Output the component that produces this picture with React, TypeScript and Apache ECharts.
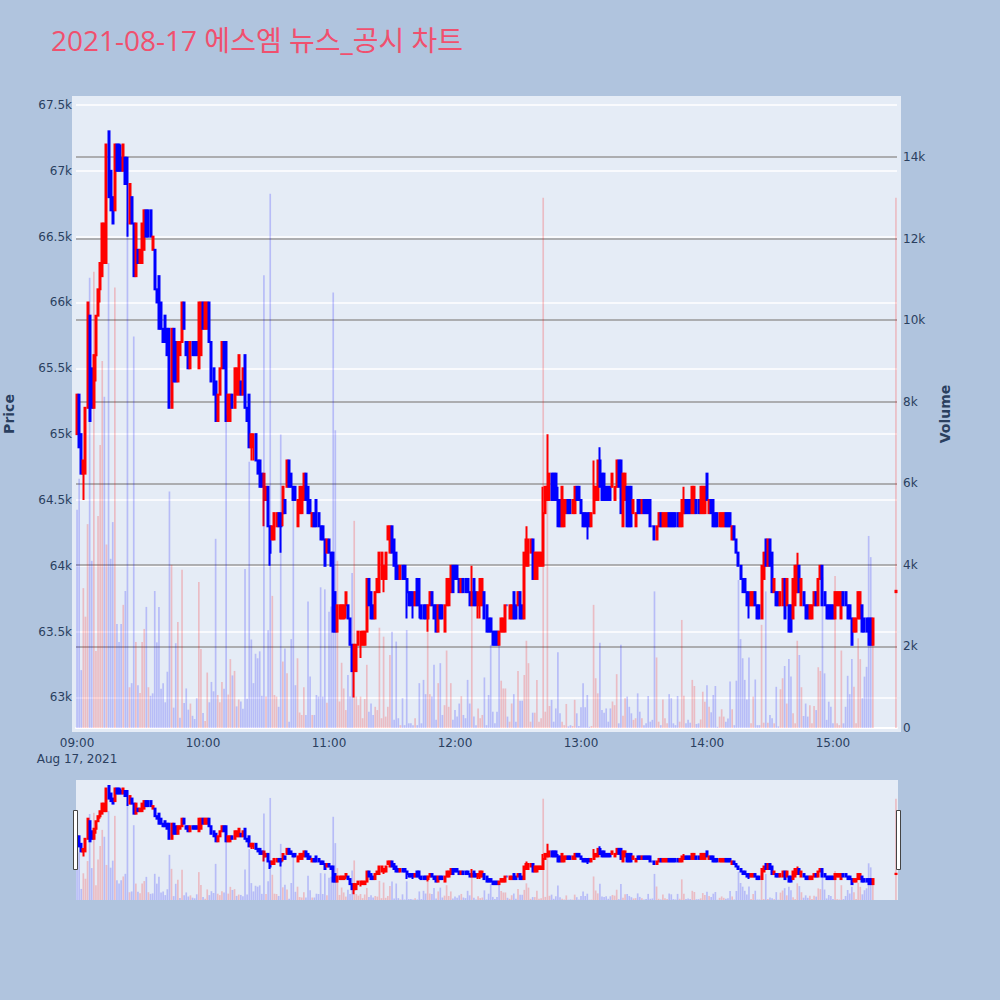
import React, { useEffect, useRef } from "react";
import * as echarts from "echarts";

// [open, close, low, high, volume] per minute
const hour09 = [
  [65000,65300,65000,65300,5350],[65300,64900,64900,65300,6110],[65000,64700,64700,65000,1420],[64700,64800,64500,64800,3430],[64700,65200,64700,65200,2730],
  [65200,66000,65200,66000,5000],[65900,65100,65100,65900,11040],[65500,65200,65200,65500,4100],[65200,65600,65200,65600,11190],[65600,65900,65400,65900,1890],
  [65900,66100,65900,66100,5200],[66100,66300,66000,66300,6940],[66200,66600,66200,66600,9000],[66300,66600,66300,66600,8120],[66300,67200,66300,67200,4500],
  [67300,66800,66800,67300,11400],[67000,66700,66700,67000,4150],[66800,66600,66600,66800,5050],[66700,67200,66700,67200,10800],[67200,67000,67000,67200,2550],
  [67200,67000,67000,67200,2110],[67100,67000,67000,67200,2550],[67000,67200,67000,67200,3020],[67100,66900,66900,67100,3360],[67100,66900,66500,67100,12390],
  [66600,66900,66600,66900,1000],[66800,66600,66600,66800,1100],[66600,66200,66200,66600,9600],[66200,66600,66200,66600,2110],[66400,66300,66300,66400,1050],
  [66300,66400,66300,66400,860],[66300,66600,66300,66600,2110],[66400,66700,66400,66700,2430],[66700,66500,66500,66700,2970],[66700,66500,66500,66700,1000],
  [66700,66500,66500,66700,790],[66400,66500,66400,66500,850],[66400,66100,66100,66400,3360],[66100,66000,66000,66100,2100],[66200,65800,65800,66200,2970],
  [66000,65800,65800,66000,960],[65800,65700,65700,65800,1100],[65900,65700,65700,65900,630],[65800,65600,65600,65800,1380],[65800,65200,65200,65800,5800],
  [65200,65800,65200,65800,4000],[65800,65400,65400,65800,500],[65700,65400,65400,65700,2080],[65400,65700,65400,65700,2600],[65600,65700,65600,65700,250],
  [65700,66000,65700,66000,3880],[66000,65800,65800,66000,610],[65700,65600,65600,65700,970],[65700,65500,65500,65700,450],[65500,65700,65500,65700,600],
  [65700,65600,65600,65700,300],[65700,65600,65600,65700,220],[65700,65600,65600,65700,730],[65500,66000,65500,66000,3580],[65600,66000,65600,66000,1940],
];
const hour10 = [
  [66000,65800,65800,66000,370],[65800,66000,65800,66000,170],[65800,66000,65800,66000,1360],[66000,65700,65700,66000,630],[65700,65400,65400,65700,1130],
  [65500,65300,65300,65500,900],[65400,65100,65100,65400,4640],[65100,65300,65100,65300,810],[65300,65500,65300,65500,630],[65500,65700,65500,65700,1130],
  [65700,65500,65500,65700,960],[65700,65100,65100,65700,7680],[65100,65300,65100,65300,820],[65100,65300,65100,65300,1690],[65300,65200,65200,65300,1290],
  [65200,65500,65200,65500,1400],[65300,65500,65300,65500,530],[65300,65600,65300,65600,700],[65400,65300,65300,65400,650],[65300,65500,65300,65500,470],
  [65600,65200,65200,65600,3900],[65200,65100,65100,65200,720],[65300,64900,64900,65300,6530],[64900,65000,64800,65000,2170],[64900,65000,64800,65000,1100],
  [65000,64800,64800,65000,1820],[64800,64700,64700,64800,1710],[64800,64600,64600,64800,1880],[64700,64600,64600,64700,790],[64500,64700,64300,64700,11100],
  [64500,64600,64500,64600,770],[64600,64300,64300,64600,2400],[64300,64100,64000,64300,13100],[64200,64300,64200,64300,3240],[64200,64400,64200,64400,810],
  [64300,64400,64300,64400,770],[64400,64300,64300,64400,520],[64400,64300,64100,64400,7200],[64400,64600,64300,64600,1630],[64500,64400,64400,64500,1950],
  [64600,64800,64600,64800,1340],[64800,64600,64600,64800,155],[64700,64600,64600,64700,2180],[64600,64500,64500,64600,5620],[64600,64500,64500,64600,1050],
  [64300,64500,64300,64500,1710],[64400,64600,64400,64600,380],[64400,64600,64400,64600,320],[64500,64700,64500,64700,1000],[64700,64500,64500,64700,320],
  [64600,64400,64400,64600,3100],[64500,64400,64400,64500,1260],[64300,64400,64300,64400,320],[64400,64300,64300,64400,320],[64500,64300,64300,64500,810],
  [64400,64300,64300,64400,770],[64300,64200,64200,64300,3450],[64300,64200,64200,64300,770],[64200,64000,64000,64200,3400],[64100,64200,64100,64200,620],
];
const hour11 = [
  [64200,64100,64100,64200,2850],[64100,64000,64000,64100,2980],[64100,63500,63500,64100,10680],[63800,63500,63500,63800,7300],[63500,63700,63500,63700,4100],
  [63600,63700,63600,63700,650],[63600,63700,63600,63700,1600],[63600,63700,63600,63700,970],[63700,63800,63600,63800,440],[63700,63600,63600,63700,1300],
  [63600,63400,63400,63600,770],[63400,63200,63200,63400,3800],[63200,63400,63000,63400,5080],[63200,63400,63200,63400,770],[63400,63500,63400,63500,560],
  [63400,63500,63300,63500,770],[63400,63500,63400,63500,240],[63400,63500,63400,63500,710],[63500,63900,63500,63900,1550],[63900,63700,63700,63900,400],
  [63800,63600,63600,63800,600],[63700,63600,63600,63700,320],[63600,63800,63600,63800,520],[63800,63900,63800,63900,440],[63800,64100,63800,64100,2460],
  [63900,64100,63900,64100,240],[63900,64000,63800,64000,2240],[63900,64100,63900,64100,280],[64200,64300,64200,64300,520],[64100,64300,64100,64300,1790],
  [64300,64100,64100,64300,2360],[64200,64000,64000,64200,200],[64100,63900,63900,64100,2120],[64000,63900,63900,64000,240],[63900,64000,63900,64000,70],
  [64000,63900,63900,64000,730],[64000,63900,63900,64000,70],[63900,63800,63600,63900,2400],[63800,63700,63700,63800,115],[63800,63700,63700,63800,115],
  [63800,63700,63600,63800,70],[63700,63800,63700,63800,240],[63900,63700,63700,63900,70],[63900,63700,63600,63900,1100],[63700,63600,63600,63700,115],
  [63700,63600,63600,63700,1180],[63700,63600,63600,63700,830],[63600,63700,63500,63700,2360],[63700,63800,63700,63800,830],[63800,63700,63700,63800,770],
  [63700,63600,63600,63700,1550],[63700,63500,63500,63700,200],[63500,63700,63500,63700,1100],[63700,63600,63600,63700,1590],[63700,63600,63600,63700,320],
  [63500,63700,63500,63700,560],[63700,63900,63700,63900,1900],[63700,63900,63700,63900,520],[63800,64000,63800,64000,1100],[64000,63800,63800,64000,200],
];
const hour12 = [
  [64000,63900,63900,64000,440],[64000,63900,63900,64000,280],[63900,63800,63800,63900,600],[63800,63900,63800,63900,780],[63900,63800,63800,63900,320],
  [63900,63800,63800,63900,240],[63900,63800,63800,63900,1180],[63800,63700,63700,63800,600],[63700,63800,63700,64000,3300],[63900,63700,63700,63900,280],
  [63800,63700,63700,63800,70],[63700,63800,63600,63800,480],[63700,63900,63600,63900,240],[63700,63900,63700,63900,320],[63800,63600,63600,63800,1240],
  [63700,63500,63500,63700,70],[63600,63500,63500,63600,810],[63600,63500,63500,63600,2040],[63500,63400,63400,63500,400],[63500,63400,63400,63500,115],
  [63500,63400,63400,63500,400],[63400,63500,63400,63500,2040],[63500,63600,63500,63600,1160],[63500,63600,63500,63600,970],[63500,63700,63500,63700,970],
  [63700,63700,63700,63700,280],[63600,63700,63600,63700,155],[63600,63700,63600,63700,600],[63800,63600,63600,63800,830],[63700,63600,63600,63700,155],
  [63700,63800,63700,63800,1400],[63800,63600,63600,63800,670],[63700,63600,63600,63700,670],[63600,64100,63600,64100,1300],[64000,64200,64000,64300,2140],
  [64000,64200,64000,64200,1590],[64100,64200,64100,64200,155],[64200,63900,63900,64200,376],[63900,64100,63900,64100,376],[63900,64100,63900,64100,1180],
  [64000,64100,64000,64100,155],[64000,64100,64000,64100,240],[64000,64400,64000,64600,13000],[64400,64600,64400,64600,400],[64500,64600,64500,65000,5600],
  [64500,64700,64500,64700,540],[64700,64500,64500,64700,690],[64700,64500,64500,64700,155],[64700,64500,64500,64700,480],[64500,64300,64300,64600,1860],
  [64500,64300,64300,64500,360],[64300,64600,64300,64600,155],[64300,64500,64300,64500,70],[64400,64500,64400,64500,590],[64500,64400,64400,64500,40],
  [64500,64400,64400,64500,70],[64400,64500,64400,64500,50],[64400,64600,64400,64600,690],[64600,64500,64500,64600,360],[64600,64500,64500,64600,50],
];
const hour13 = [
  [64500,64400,64400,64500,510],[64400,64300,64300,64400,1100],[64400,64300,64300,64400,510],[64400,64300,64200,64400,810],[64400,64300,64300,64400,30],
  [64300,64400,64300,64400,50],[64400,64600,64400,64800,3020],[64500,64600,64500,64600,1220],[64500,64800,64500,64800,850],[64800,64600,64600,64900,2090],
  [64700,64500,64500,64700,440],[64700,64500,64500,64700,376],[64600,64500,64500,64600,480],[64600,64500,64500,64600,155],[64600,64500,64500,64600,480],
  [64600,64700,64600,64700,650],[64500,64600,64500,64600,560],[64600,64800,64600,64800,1320],[64800,64600,64600,64800,115],[64800,64400,64400,64800,2040],
  [64300,64700,64300,64700,300],[64500,64700,64500,64700,730],[64600,64300,64300,64600,770],[64600,64300,64300,64600,520],[64600,64300,64300,64600,360],
  [64400,64500,64400,64500,200],[64300,64400,64300,64400,240],[64500,64400,64400,64500,850],[64500,64400,64400,64500,400],[64400,64500,64400,64500,240],
  [64500,64400,64400,64500,70],[64500,64400,64400,64500,115],[64500,64400,64400,64500,785],[64500,64300,64300,64500,155],[64300,64300,64300,64300,200],
  [64300,64200,64200,64300,3350],[64200,64300,64200,64300,1730],[64300,64400,64300,64400,155],[64400,64300,64300,64400,70],[64300,64400,64300,64400,700],
  [64300,64400,64300,64400,240],[64300,64400,64300,64400,115],[64400,64300,64300,64400,830],[64400,64300,64300,64400,730],[64400,64300,64300,64400,115],
  [64400,64300,64300,64400,70],[64400,64300,64300,64400,785],[64300,64400,64300,64400,155],[64300,64500,64300,64500,2650],[64400,64500,64400,64600,790],
  [64500,64400,64400,64500,115],[64500,64400,64400,64500,200],[64500,64400,64400,64500,130],[64400,64600,64400,64600,1180],[64400,64600,64400,64600,1030],
  [64500,64400,64400,64500,100],[64500,64400,64400,64500,115],[64400,64600,64400,64600,210],[64400,64600,64400,64600,890],[64400,64600,64400,64600,645],
];
const hour14 = [
  [64700,64500,64500,64700,1050],[64400,64500,64400,64500,520],[64500,64400,64400,64500,385],[64500,64300,64300,64500,810],[64400,64300,64300,64400,1030],
  [64400,64300,64300,64400,30],[64300,64400,64300,64400,280],[64300,64400,64300,64400,460],[64300,64400,64300,64400,280],[64400,64300,64300,64400,155],
  [64400,64300,64300,64400,230],[64400,64300,64300,64400,1140],[64200,64300,64200,64300,460],[64300,64200,64200,64300,70],[64200,64100,64100,64200,1160],
  [64100,64000,64000,64100,3630],[64000,63900,63900,64000,2180],[63900,63800,63800,63900,1710],[63900,63800,63800,63900,1180],[63800,63700,63700,63800,700],
  [63800,63700,63600,63800,1730],[63700,63800,63700,63800,115],[63700,63800,63700,63800,770],[63800,63700,63700,63800,1190],[63700,63600,63600,63700,70],
  [63700,63600,63600,63700,70],[63600,64000,63600,64000,2530],[63900,64100,63900,64100,130],[64200,64000,64000,64200,3350],[64000,64200,64000,64200,130],
  [64200,64000,64000,64200,320],[64100,63800,63800,64100,240],[63800,63900,63800,63900,115],[63800,63700,63700,63800,1010],[63800,63700,63700,63800,40],
  [63700,63800,63700,63800,950],[63700,63900,63700,63900,1220],[63900,63600,63600,63900,1520],[63700,63900,63700,63900,600],[63700,63500,63500,63700,1690],
  [63700,63500,63500,63700,1260],[63600,63900,63600,63900,360],[63700,64000,63700,64000,115],[63800,64000,63800,64100,2140],[64000,63800,63800,64000,1790],
  [63700,63900,63700,63900,1000],[63800,63700,63700,63800,295],[63700,63600,63600,63700,600],[63700,63600,63600,63700,280],[63600,63700,63600,63700,560],
  [63600,63700,63600,63700,115],[63700,63800,63700,63800,540],[63800,63700,63700,63800,440],[63700,63900,63700,63900,1490],[63900,64000,63900,64000,1400],
  [64000,63700,63700,64000,3700],[63800,63700,63700,63800,1340],[63700,63600,63600,63700,200],[63700,63600,63600,63700,645],[63700,63600,63600,63700,520],
];
const hour15 = [
  [63700,63600,63600,63700,115],[63600,63800,63600,63800,3730],[63700,63800,63700,63800,115],[63700,63800,63700,63800,70],[63600,63800,63600,63800,1900],
  [63800,63700,63700,63800,115],[63800,63700,63700,63800,520],[63700,63600,63600,63700,1280],[63700,63600,63600,63700,830],[63600,63400,63400,63600,1690],
  [63500,63600,63500,63600,1010],[63500,63600,63500,63600,115],[63600,63800,63600,63800,2200],[63600,63800,63600,63800,1690],[63700,63500,63500,63700,730],
  [63600,63500,63500,63600,1260],[63600,63500,63500,63600,1500],[63600,63400,63400,63600,4710],[63600,63400,63400,63600,4190],[63400,63600,63400,63600,2040],
];
const closingMinute = 390;
const closingCandle = [63800, 63810, 63800, 63810, 13000];

// Volume bars whose colour differs from the candle of the same minute
const blueVolumeMinutes = [0, 7, 13, 36, 49, 76, 79, 83, 84, 89, 201];
const redVolumeMinutes = [34];

const priceTicks = [63000, 63500, 64000, 64500, 65000, 65500, 66000, 66500, 67000, 67500];
const volumeTicks = [0, 2000, 4000, 6000, 8000, 10000, 12000, 14000];

const MINUTES = 391;
const RED = "#FF0000";
const BLUE = "#0000FF";
const INK = "#2a3f5f";
const FONT = "'DejaVu Sans', 'Noto Sans CJK KR', sans-serif";
const TITLE_FONT = "'Open Sans', 'Noto Sans CJK KR', sans-serif";

function label(min: number) {
  const h = 9 + Math.floor(min / 60);
  return `${String(h).padStart(2, "0")}:${String(min % 60).padStart(2, "0")}`;
}
const kFormat = (v: number) => (v === 0 ? "0" : `${v / 1000}k`);

export default function App() {
  const ref = useRef<HTMLDivElement>(null);
  useEffect(() => {
    const chart = echarts.init(ref.current!, undefined, { renderer: "svg" });
    const rows = [...hour09, ...hour10, ...hour11, ...hour12, ...hour13, ...hour14, ...hour15];
    const entries: [number, number[]][] = rows.map((r, i) => [i, r] as [number, number[]]);
    entries.push([closingMinute, closingCandle]);
    const categories = Array.from({ length: MINUTES }, (_, i) => label(i));

    const candleData = entries.map(([m, r]) => {
      const c = r[1] > r[0] ? RED : BLUE;
      return {
        value: [m, r[0], r[1], r[2], r[3]],
        itemStyle: { color: c, color0: c, borderColor: c, borderColor0: c, borderWidth: 2 },
      };
    });
    const volumeData = entries.map(([m, r]) => {
      let c = r[1] > r[0] ? RED : BLUE;
      if (blueVolumeMinutes.includes(m)) c = BLUE;
      if (redVolumeMinutes.includes(m)) c = RED;
      return { value: [m, r[4]], itemStyle: { color: c, opacity: 0.2 } };
    });

    const xBase = {
      type: "category",
      data: categories,
      boundaryGap: true,
      axisTick: { show: false },
      splitLine: { show: false },
    };
    const candleSeries = (x: number, y: number) => ({
      type: "candlestick",
      xAxisIndex: x,
      yAxisIndex: y,
      data: candleData,
      encode: { x: 0, y: [1, 2, 3, 4] },
      barWidth: 1.5,
      clip: false,
      z: 4,
    });
    const barSeries = (x: number, y: number) => ({
      type: "bar",
      xAxisIndex: x,
      yAxisIndex: y,
      data: volumeData,
      encode: { x: 0, y: 1 },
      barWidth: 1.7,
      z: 5,
    });

    chart.setOption({
      animation: false,
      backgroundColor: "#B0C4DE",
      textStyle: { fontFamily: FONT },
      title: {
        text: "2021-08-17 에스엠 뉴스_공시 차트",
        left: 46,
        top: 21,
        textStyle: { color: "#F0506E", fontSize: 28, fontWeight: "normal", fontFamily: TITLE_FONT },
      },
      graphic: [
        { type: "rect", z: -10, shape: { x: 72, y: 96, width: 829, height: 636 }, style: { fill: "#E5ECF6" } },
        { type: "rect", z: -10, shape: { x: 76, y: 780, width: 822, height: 120 }, style: { fill: "#E5ECF6" } },
        { type: "rect", z: 20, shape: { x: 73.5, y: 810.5, width: 4, height: 59 }, style: { fill: "#FFFFFF", stroke: "#444444", lineWidth: 1 } },
        { type: "rect", z: 20, shape: { x: 896.5, y: 810.5, width: 4, height: 59 }, style: { fill: "#FFFFFF", stroke: "#444444", lineWidth: 1 } },
      ],
      grid: [
        { left: 76, width: 821, top: 100, height: 628, outerBoundsMode: "none" },
        { left: 76, width: 821, top: 780, height: 120, outerBoundsMode: "none" },
      ],
      xAxis: [
        {
          ...xBase,
          gridIndex: 0,
          z: 3,
          axisLine: { show: true, lineStyle: { color: "#FFFFFF", width: 2 } },
          axisLabel: {
            color: INK,
            fontSize: 12,
            margin: 7,
            lineHeight: 16,
            interval: (i: number) => i % 60 === 0 && i < 390,
            formatter: (v: string, i: number) => (i === 0 ? `${v}\nAug 17, 2021` : v),
          },
        },
        { ...xBase, gridIndex: 1, axisLine: { show: false }, axisLabel: { show: false } },
      ],
      yAxis: [
        {
          type: "value",
          gridIndex: 0,
          z: 1,
          min: 62768,
          max: 67538,
          name: "Price",
          nameLocation: "middle",
          nameRotate: 90,
          nameGap: 60,
          nameTextStyle: { color: INK, fontSize: 14, fontWeight: "bold" },
          axisLine: { show: false },
          axisTick: { show: false, customValues: priceTicks },
          axisLabel: { color: INK, fontSize: 12, margin: 4, customValues: priceTicks, formatter: kFormat },
          splitLine: { show: true, lineStyle: { color: "#FFFFFF", width: 1.5 } },
        },
        {
          type: "value",
          gridIndex: 0,
          position: "right",
          z: 2,
          min: 0,
          max: 15400,
          name: "Volume",
          nameLocation: "middle",
          nameRotate: 90,
          nameGap: 41,
          nameTextStyle: { color: INK, fontSize: 14, fontWeight: "bold" },
          axisLine: { show: false },
          axisTick: { show: false, customValues: volumeTicks },
          axisLabel: { color: INK, fontSize: 12, margin: 6, customValues: volumeTicks, formatter: kFormat },
          splitLine: { show: true, lineStyle: { color: "#989898", width: 1.5 } },
        },
        { type: "value", gridIndex: 1, min: 62768, max: 67538, axisLine: { show: false }, axisTick: { show: false }, axisLabel: { show: false }, splitLine: { show: false } },
        { type: "value", gridIndex: 1, min: 0, max: 15400, axisLine: { show: false }, axisTick: { show: false }, axisLabel: { show: false }, splitLine: { show: false } },
      ],
      series: [candleSeries(0, 0), barSeries(0, 1), candleSeries(1, 2), barSeries(1, 3)],
    });
    return () => chart.dispose();
  }, []);
  return (
    <div
      ref={ref}
      style={{ position: "absolute", left: 0, top: 0, width: 1000, height: 1000 }}
    />
  );
}
